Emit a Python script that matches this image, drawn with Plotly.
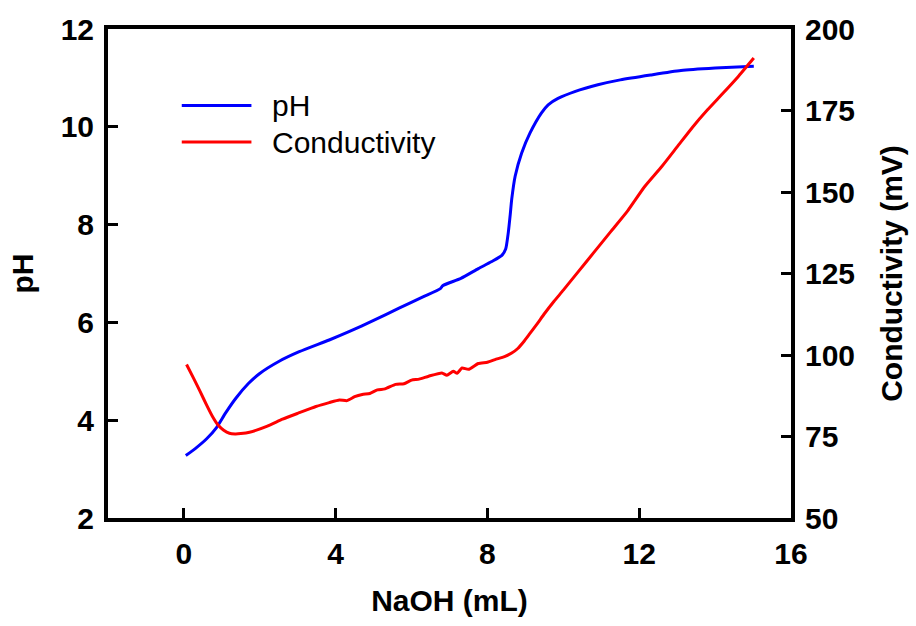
import plotly.graph_objects as go

# pH curve (NaOH volume in mL, pH)
ph_x = [0.05, 0.3, 0.6, 0.86, 1.1, 1.38, 1.7, 1.99, 2.5, 3.04, 3.83, 4.35, 5.0, 5.67,
        6.3, 6.76, 6.82, 7.3, 7.76, 8.1, 8.38, 8.48, 8.55, 8.6, 8.64, 8.73, 8.9, 9.12,
        9.42, 9.6, 9.86, 10.3, 10.91, 11.5, 12.3, 13.1, 14.0, 15.02]
ph_y = [3.28, 3.42, 3.62, 3.85, 4.15, 4.46, 4.75, 4.95, 5.2, 5.40, 5.64, 5.81, 6.04, 6.29,
        6.52, 6.69, 6.75, 6.90, 7.10, 7.24, 7.37, 7.50, 7.84, 8.2, 8.52, 8.99, 9.46, 9.87,
        10.28, 10.45, 10.58, 10.72, 10.86, 10.96, 11.06, 11.15, 11.20, 11.24]

# Conductivity curve (NaOH volume in mL, mV)
cond_x = [0.07, 0.25, 0.42, 0.6, 0.75, 0.9, 1.05, 1.2, 1.35, 1.5, 1.73, 2.2, 2.6, 3.0, 3.48, 3.83,
          4.1, 4.3, 4.5, 4.7, 4.9, 5.1, 5.3, 5.58, 5.8, 6.0, 6.2, 6.45, 6.8, 6.93, 7.1,
          7.2, 7.33, 7.5, 7.76, 8.0, 8.2, 8.45, 8.64, 8.8, 8.95, 9.1, 9.3, 9.51, 9.75, 10.0, 10.39, 10.8,
          11.26, 11.7, 12.14, 12.6, 13.01, 13.4, 13.8, 14.2, 14.6, 15.02]
cond_y = [97.1, 93.0, 89.0, 84.6, 81.2, 78.5, 76.9, 76.0, 75.8, 75.9, 76.3, 78.2, 80.3, 82.1, 84.2, 85.4,
          86.2, 86.0, 87.2, 87.9, 88.2, 89.3, 89.6, 91.0, 91.2, 92.3, 92.6, 93.5, 94.5, 93.8, 95.0,
          94.4, 96.0, 95.6, 97.4, 97.8, 98.6, 99.5, 100.6, 102.0, 104.0, 106.3, 109.4, 112.8, 116.4, 119.9, 125.5, 131.4,
          138.0, 144.3, 151.6, 157.9, 164.0, 169.8, 175.2, 180.2, 185.3, 191.1]

series_names = ["pH", "Conductivity"]
series_colors = ["#0000FF", "#FF0000"]

FONT = "Liberation Sans, Arial, sans-serif"
FS = 30

fig = go.Figure()
fig.add_trace(go.Scatter(x=ph_x, y=ph_y, mode="lines", name=series_names[0],
                         line=dict(color=series_colors[0], width=3, shape="spline", smoothing=0.6),
                         yaxis="y", showlegend=False))
fig.add_trace(go.Scatter(x=cond_x, y=cond_y, mode="lines", name=series_names[1],
                         line=dict(color=series_colors[1], width=3, shape="spline", smoothing=0.5),
                         yaxis="y2", showlegend=False))

axis_common = dict(showgrid=False, zeroline=False, showline=True, linecolor="black",
                   linewidth=4, ticks="inside", ticklen=10, tickwidth=2.5, tickcolor="black",
                   tickfont=dict(family=FONT, size=FS, color="black", weight="bold"))

title_font = dict(family=FONT, size=FS, color="black", weight="bold")

fig.update_layout(
    width=916, height=626,
    margin=dict(l=108, r=123, t=25, b=108),
    paper_bgcolor="white", plot_bgcolor="white",
    xaxis=dict(range=[-2, 16], tick0=0, dtick=4, mirror=True,
               title=dict(text="NaOH (mL)", font=title_font, standoff=22),
               ticklabelstandoff=6, **axis_common),
    yaxis=dict(range=[2, 12], tick0=2, dtick=2,
               title=dict(text="pH", font=title_font, standoff=19),
               ticklabelstandoff=4, **axis_common),
    yaxis2=dict(range=[50, 200], tick0=50, dtick=25, overlaying="y", side="right",
                title=dict(text="Conductivity (mV)", font=title_font, standoff=28),
                ticklabelstandoff=4, **axis_common),
)

# Manual legend (paper coordinates)
legend_rows = [0.8438, 0.7688]
for name, color, yy in zip(series_names, series_colors, legend_rows):
    fig.add_shape(type="line", xref="paper", yref="paper", x0=0.108, x1=0.210, y0=yy, y1=yy,
                  line=dict(color=color, width=3))
    fig.add_annotation(xref="paper", yref="paper", x=0.2365, y=yy, text=name, showarrow=False,
                       xanchor="left", yanchor="middle",
                       font=dict(family=FONT, size=FS, color="black"))

fig.write_html("out.html")
